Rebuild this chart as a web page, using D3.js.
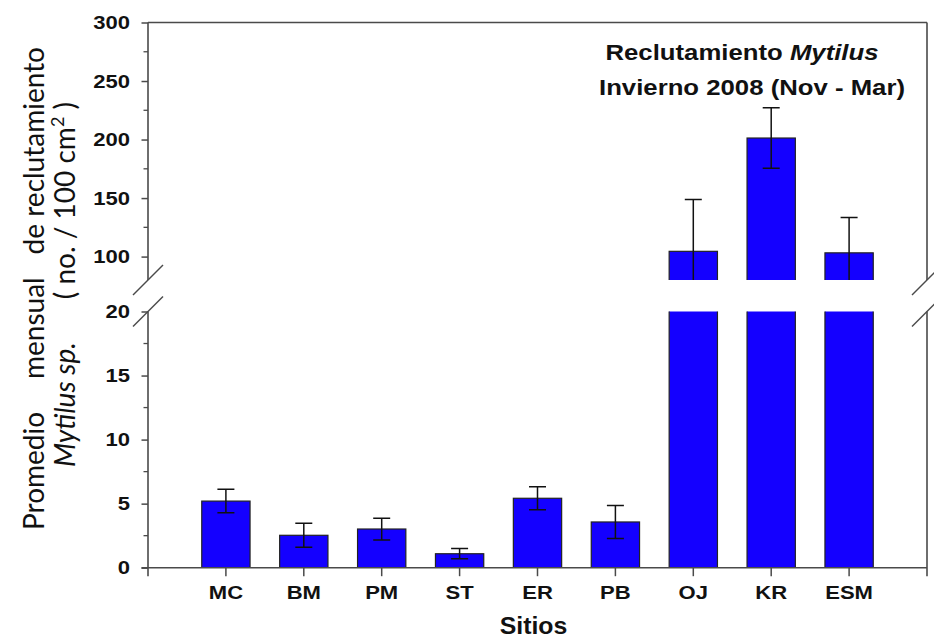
<!DOCTYPE html>
<html>
<head>
<meta charset="utf-8">
<script src="https://cdn.jsdelivr.net/npm/d3@7/dist/d3.min.js"></script>
<style>
  html, body { margin: 0; padding: 0; background: #fff; }
  svg { display: block; }
</style>
</head>
<body>
<svg id="chart" width="934" height="639"></svg>
<script>
// ---- data ----
const categories = ["MC", "BM", "PM", "ST", "ER", "PB", "OJ", "KR", "ESM"];
const means      = [5.2, 2.53, 3.02, 1.09, 5.42, 3.57, 104.5, 201.3, 103.2];
const errors     = [0.92, 0.94, 0.85, 0.40, 0.90, 1.29, 44.2, 25.9, 30.3];
const lowerTicks = [0, 5, 10, 15, 20];
const lowerMinor = [2.5, 7.5, 12.5, 17.5];
const upperTicks = [100, 150, 200, 250, 300];
const upperMinor = [125, 175, 225, 275];
const lowerDomain = [0, 20];
const upperDomain = [80, 300];

// ---- layout ----
const svg = d3.select("#chart");
const left = 148, right = 927;
const lowerBottom = 567.7, lowerTop = 311.5;
const upperBottom = 280, upperTop = 22.5;
const barFill = "#1400ff";
const axisColor = "#4a4a4a";
const SX = 1.16; // horizontal stretch of the bold labels

const x = d3.scaleBand().domain(categories).range([left, right])
  .paddingInner(0.38).paddingOuter(0.69).align(0.5);
const yL = d3.scaleLinear().domain(lowerDomain).range([lowerBottom, lowerTop]);
const yU = d3.scaleLinear().domain(upperDomain).range([upperBottom, upperTop]);

const data = categories.map((c, i) => ({ c, v: means[i], e: errors[i] }));

// clip paths
const defs = svg.append("defs");
defs.append("clipPath").attr("id", "clipL").append("rect")
  .attr("x", left).attr("y", lowerTop).attr("width", right - left).attr("height", lowerBottom - lowerTop);
defs.append("clipPath").attr("id", "clipU").append("rect")
  .attr("x", left).attr("y", upperTop).attr("width", right - left).attr("height", upperBottom - upperTop);

function drawPanel(y, clipId) {
  const g = svg.append("g").attr("clip-path", `url(#${clipId})`);
  g.selectAll("rect.bar").data(data).join("rect")
    .attr("class", "bar")
    .attr("x", d => x(d.c))
    .attr("width", x.bandwidth())
    .attr("y", d => y(d.v))
    .attr("height", d => y(0) - y(d.v))
    .attr("fill", barFill)
    .attr("stroke", "#222")
    .attr("stroke-width", 1.2);
  const cap = 8.5;
  const eb = g.selectAll("g.err").data(data).join("g").attr("class", "err")
    .attr("stroke", "#111").attr("stroke-width", 1.5);
  eb.append("line")
    .attr("x1", d => x(d.c) + x.bandwidth() / 2)
    .attr("x2", d => x(d.c) + x.bandwidth() / 2)
    .attr("y1", d => y(d.v - d.e))
    .attr("y2", d => y(d.v + d.e));
  eb.append("line")
    .attr("x1", d => x(d.c) + x.bandwidth() / 2 - cap)
    .attr("x2", d => x(d.c) + x.bandwidth() / 2 + cap)
    .attr("y1", d => y(d.v + d.e))
    .attr("y2", d => y(d.v + d.e));
  eb.append("line")
    .attr("x1", d => x(d.c) + x.bandwidth() / 2 - cap)
    .attr("x2", d => x(d.c) + x.bandwidth() / 2 + cap)
    .attr("y1", d => y(d.v - d.e))
    .attr("y2", d => y(d.v - d.e));
}
drawPanel(yL, "clipL");
drawPanel(yU, "clipU");

// ---- axes ----
const tickFont = "'Liberation Sans', Arial, sans-serif";
function yAxis(y, ticks, minor) {
  const ax = svg.append("g").attr("transform", `translate(${left},0)`)
    .call(d3.axisLeft(y).tickValues(ticks).tickSize(6.5).tickPadding(11.5).tickSizeOuter(0));
  ax.select(".domain").remove();
  ax.selectAll(".tick line").attr("stroke", axisColor).attr("stroke-width", 1.5);
  ax.selectAll(".tick text")
    .attr("font-family", tickFont).attr("font-weight", "bold")
    .attr("font-size", 19).attr("fill", "#111")
    .attr("x", -18 / SX).attr("transform", `scale(${SX},1)`);
  ax.selectAll(".minor").data(minor).join("line").attr("class", "minor")
    .attr("x1", -4.5).attr("x2", 0).attr("y1", d => y(d)).attr("y2", d => y(d))
    .attr("stroke", axisColor).attr("stroke-width", 1.3);
}
yAxis(yU, upperTicks, upperMinor);
yAxis(yL, lowerTicks, lowerMinor);

const frame = svg.append("g").attr("stroke", axisColor).attr("stroke-width", 1.6).attr("fill", "none");
// upper panel frame
frame.append("line").attr("x1", left).attr("x2", left).attr("y1", yU(300)).attr("y2", yU(80));
frame.append("line").attr("x1", right).attr("x2", right).attr("y1", yU(300)).attr("y2", yU(80));
frame.append("line").attr("x1", left).attr("x2", right).attr("y1", yU(300)).attr("y2", yU(300));
// lower panel frame
frame.append("line").attr("x1", left).attr("x2", left).attr("y1", yL(20)).attr("y2", yL(0) + 8.5);
frame.append("line").attr("x1", right).attr("x2", right).attr("y1", yL(20)).attr("y2", yL(0) + 8.5);
frame.append("line").attr("x1", left - 6.5).attr("x2", right).attr("y1", yL(0)).attr("y2", yL(0));

// break marks
[[left, yU(80)], [left, yL(20)], [right, yU(80)], [right, yL(20)]].forEach(([cx, cy]) => {
  frame.append("line").attr("x1", cx - 15).attr("y1", cy + 15).attr("x2", cx + 15).attr("y2", cy - 15)
    .attr("stroke-width", 1.4);
});

// x axis
const xa = svg.append("g").attr("transform", `translate(0,${lowerBottom})`)
  .call(d3.axisBottom(x).tickSize(8.5).tickPadding(9).tickSizeOuter(0));
xa.select(".domain").remove();
xa.selectAll(".tick line").attr("stroke", axisColor).attr("stroke-width", 1.5);
xa.selectAll(".tick text")
  .attr("font-family", tickFont).attr("font-weight", "bold")
  .attr("font-size", 19).attr("fill", "#111")
  .attr("transform", `scale(${SX},1)`);

// x title
svg.append("g").attr("transform", `translate(${(left + right) / 2 - 4},634) scale(1.08,1)`)
  .append("text").attr("text-anchor", "middle").attr("font-family", tickFont).attr("font-weight", "bold")
  .attr("font-size", 23).attr("fill", "#111").text("Sitios");

// chart title
const t1 = svg.append("g").attr("transform", "translate(742,60) scale(1.17,1)")
  .append("text").attr("text-anchor", "middle")
  .attr("font-family", tickFont).attr("font-weight", "bold").attr("font-size", 22).attr("fill", "#111");
t1.append("tspan").text("Reclutamiento ");
t1.append("tspan").attr("font-style", "italic").text("Mytilus");
svg.append("g").attr("transform", "translate(752,95) scale(1.17,1)")
  .append("text").attr("text-anchor", "middle")
  .attr("font-family", tickFont).attr("font-weight", "bold").attr("font-size", 22).attr("fill", "#111")
  .text("Invierno 2008 (Nov - Mar)");

// y title (two rotated lines, wider word gaps as in the reference)
const labFont = "Lato, 'Open Sans', sans-serif";
function spacedLine(tx, yStart, yEnd, pieces) {
  const t = svg.append("text").attr("transform", `translate(${tx},${yStart}) rotate(-90)`)
    .attr("text-anchor", "start").attr("font-family", labFont).attr("font-size", 28).attr("fill", "#111");
  const gaps = [];
  pieces.forEach(p => {
    const s = t.append("tspan").text(p.text);
    if (p.italic) s.attr("font-style", "italic");
    if (p.size) s.attr("font-size", p.size);
    if (p.dy) s.attr("dy", p.dy);
    if (p.gap) gaps.push([s, p.gap]);
  });
  const natural = t.node().getComputedTextLength();
  const extra = Math.max(0, (yStart - yEnd) - natural);
  gaps.forEach(([s, w]) => s.attr("dx", extra * w));
}
spacedLine(44, 530, 47, [
  { text: "Promedio" },
  { text: " mensual", gap: 0.62 },
  { text: " de reclutamiento", gap: 0.38 }
]);
spacedLine(75, 467, 102, [
  { text: "Mytilus sp.", italic: true },
  { text: " ( no. / 100 cm", gap: 1 },
  { text: "2", size: 18, dy: -11 },
  { text: " )", dy: 11 }
]);
</script>
</body>
</html>
